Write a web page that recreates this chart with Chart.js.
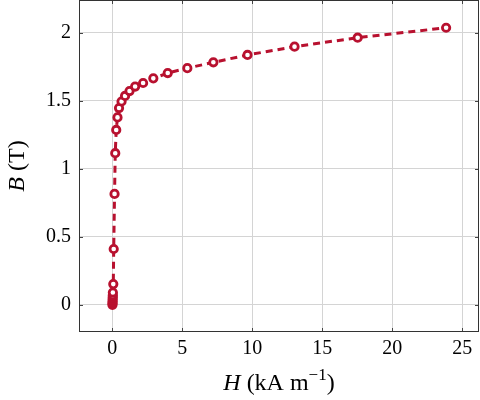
<!DOCTYPE html>
<html lang="en">

<head>
    <meta charset="UTF-8">
    <script src="https://cdn.jsdelivr.net/npm/chart.js@4.4.3/dist/chart.umd.min.js"></script>
    <style>
        html, body {
            margin: 0;
            padding: 0;
            background: #fff;
        }

        #wrap {
            width: 480px;
            height: 400px;
        }
    </style>
</head>

<body>
    <div id="wrap"><canvas></canvas></div>

    <script>
        // magnetisation curve, H in kA/m, B in T
        const h_values = [0.01, 0.015, 0.02, 0.025, 0.03, 0.035, 0.04, 0.07, 0.10, 0.16, 0.21, 0.28, 0.37, 0.48, 0.66,
            0.91, 1.23, 1.63, 2.20, 2.93, 3.96, 5.36, 7.22, 9.66, 13.02, 17.53, 23.85];
        const b_values = [0.000, 0.012, 0.025, 0.040, 0.055, 0.070, 0.090, 0.152, 0.410, 0.815, 1.114, 1.285, 1.377, 1.446, 1.494,
            1.535, 1.571, 1.604, 1.630, 1.664, 1.703, 1.739, 1.782, 1.836, 1.897, 1.963, 2.036];
        const x_ticks = [0, 5, 10, 15, 20, 25];
        const y_ticks = [0, 0.5, 1, 1.5, 2];

        const line_color = "#b8112f";
        const serif = "'Liberation Serif', 'DejaVu Serif', serif";

        // pgfplots style box with inward ticks, plus the axis titles
        const frame_plugin = {
            id: "frame",
            afterDraw(chart) {
                let ctx = chart.ctx;
                let area = chart.chartArea;
                let xs = chart.scales.x, ys = chart.scales.y;
                ctx.save();
                ctx.strokeStyle = "#444";
                ctx.lineWidth = 1;
                ctx.beginPath();
                for (let t of x_ticks) {
                    let px = Math.round(xs.getPixelForValue(t)) + 0.5;
                    ctx.moveTo(px, area.bottom); ctx.lineTo(px, area.bottom - 4);
                    ctx.moveTo(px, area.top); ctx.lineTo(px, area.top + 4);
                }
                for (let t of y_ticks) {
                    let py = Math.round(ys.getPixelForValue(t)) + 0.5;
                    ctx.moveTo(area.left, py); ctx.lineTo(area.left + 4, py);
                    ctx.moveTo(area.right, py); ctx.lineTo(area.right - 4, py);
                }
                ctx.stroke();
                ctx.strokeStyle = "#333";
                ctx.strokeRect(area.left + 0.5, area.top + 0.5, area.right - area.left - 1, area.bottom - area.top - 1);

                ctx.fillStyle = "#000";
                ctx.textBaseline = "alphabetic";

                // x title: H (kA m^-1)
                let parts = [
                    { text: "H", font: "italic 24px " + serif, dy: 0 },
                    { text: " (kA m", font: "24px " + serif, dy: 0 },
                    { text: "−1", font: "17px " + serif, dy: -10 },
                    { text: ")", font: "24px " + serif, dy: 0 }
                ];
                let total = 0;
                for (let p of parts) { ctx.font = p.font; p.w = ctx.measureText(p.text).width; total += p.w; }
                let x = (area.left + area.right) / 2 - total / 2;
                for (let p of parts) {
                    ctx.font = p.font;
                    ctx.fillText(p.text, x, 390 + p.dy);
                    x += p.w;
                }

                // y title: B (T)
                ctx.translate(24, (area.top + area.bottom) / 2);
                ctx.rotate(-Math.PI / 2);
                let yparts = [
                    { text: "B", font: "italic 24px " + serif },
                    { text: " (T)", font: "24px " + serif }
                ];
                total = 0;
                for (let p of yparts) { ctx.font = p.font; p.w = ctx.measureText(p.text).width; total += p.w; }
                x = -total / 2;
                for (let p of yparts) {
                    ctx.font = p.font;
                    ctx.fillText(p.text, x, 0);
                    x += p.w;
                }
                ctx.restore();
            }
        };

        // drop the extra room chart.js keeps for overflowing tick labels
        function no_label_padding(scale) {
            scale.paddingLeft = 0;
            scale.paddingRight = 0;
            scale.paddingTop = 0;
            scale.paddingBottom = 0;
        }

        let points = h_values.map((h, i) => ({ x: h, y: b_values[i] }));

        let ctx = document.querySelector("canvas");
        let chartjs = new Chart(ctx, {
            type: "scatter",
            data: {
                datasets: [{
                    data: points,
                    showLine: true,
                    borderColor: line_color,
                    borderWidth: 3,
                    borderDash: [7, 5],
                    pointRadius: 3.7,
                    pointBorderWidth: 2.8,
                    pointBackgroundColor: "#fff",
                    pointBorderColor: line_color
                }]
            },
            options: {
                responsive: true,
                maintainAspectRatio: false,
                animation: false,
                layout: { autoPadding: false, padding: { top: 0, right: 1, left: 0, bottom: 0 } },
                plugins: {
                    legend: { display: false },
                    tooltip: { enabled: false }
                },
                scales: {
                    x: {
                        type: "linear",
                        min: -2.38,
                        max: 26.2,
                        afterBuildTicks: scale => { scale.ticks = x_ticks.map(v => ({ value: v })); },
                        afterFit: scale => { scale.height = 68; no_label_padding(scale); },
                        grid: { color: "#d4d4d4", drawTicks: false },
                        border: { display: false },
                        ticks: {
                            padding: 5,
                            color: "#000",
                            font: { family: serif, size: 20 },
                            callback: v => String(v)
                        }
                    },
                    y: {
                        type: "linear",
                        min: -0.2,
                        max: 2.24,
                        afterBuildTicks: scale => { scale.ticks = y_ticks.map(v => ({ value: v })); },
                        afterFit: scale => { scale.width = 79; no_label_padding(scale); },
                        grid: { color: "#d4d4d4", drawTicks: false },
                        border: { display: false },
                        ticks: {
                            padding: 8,
                            color: "#000",
                            font: { family: serif, size: 20 },
                            callback: v => String(v)
                        }
                    }
                }
            },
            plugins: [frame_plugin]
        });
    </script>
</body>

</html>
